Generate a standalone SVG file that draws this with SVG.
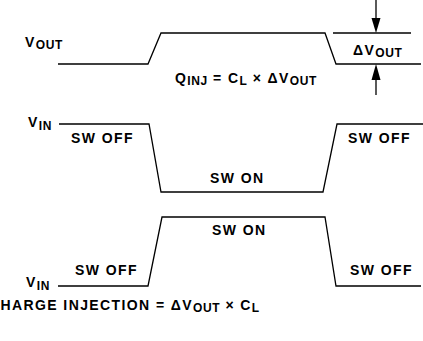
<svg xmlns="http://www.w3.org/2000/svg" width="423" height="341" viewBox="0 0 423 341">
<style>
.w{fill:none;stroke:#000;stroke-width:1.3}
.t{font-family:"Liberation Sans",Arial,sans-serif;font-weight:bold;font-size:14px;fill:#000;letter-spacing:1.4px}
.s{font-size:12px;letter-spacing:0.6px}
</style>
<rect width="423" height="341" fill="#fff"/>
<g id="connectors">
<path class="w" d="M58,64 H148 L161,33 H325 L336,64 H421"/>
<path class="w" d="M333,33 H411"/>
<path class="w" d="M59,124 H149 L161,192 H323 L337,124 H423"/>
<path class="w" d="M58,286 H148 L162,217 H325 L336,286 H421"/>
<path class="w" d="M376,0 V18"/>
<polygon points="371.5,18 380.5,18 376,33" fill="#000"/>
<path class="w" d="M376,80 V95"/>
<polygon points="371.5,80 380.5,80 376,64" fill="#000"/>
</g>
<g id="vout-label"><text class="t" x="25" y="47">V<tspan class="s" dy="2">OUT</tspan></text></g>
<g id="dvout-label"><text class="t" x="353" y="55">ΔV<tspan class="s" dy="2">OUT</tspan></text></g>
<g id="qinj-label"><text class="t" x="175" y="83">Q<tspan class="s" dy="2">INJ</tspan><tspan dy="-2"> = C</tspan><tspan class="s" dy="2">L</tspan><tspan dy="-2"> × ΔV</tspan><tspan class="s" dy="2">OUT</tspan></text></g>
<g id="vin1">
<text class="t" x="28" y="127">V<tspan class="s" dy="3">IN</tspan></text>
<text class="t" x="71" y="143">SW OFF</text>
<text class="t" x="348" y="143">SW OFF</text>
<text class="t" x="210" y="183">SW ON</text>
</g>
<g id="vin2">
<text class="t" x="26" y="287">V<tspan class="s" dy="3">IN</tspan></text>
<text class="t" x="75" y="275">SW OFF</text>
<text class="t" x="350" y="275">SW OFF</text>
<text class="t" x="212" y="235">SW ON</text>
</g>
<g id="caption"><text class="t" x="-11" y="310">CHARGE INJECTION = ΔV<tspan class="s" dy="2">OUT</tspan><tspan dy="-2"> × C</tspan><tspan class="s" dy="2">L</tspan></text></g>
</svg>
